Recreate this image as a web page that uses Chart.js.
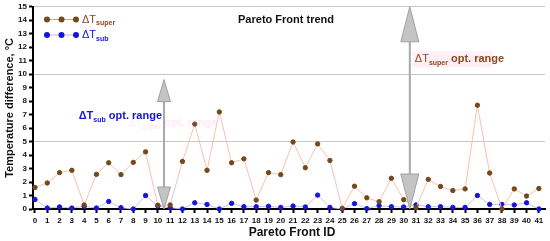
<!DOCTYPE html>
<html lang="en">
<head>
    <meta charset="UTF-8">
    <title>Pareto Front trend</title>
    <style>
        html, body { margin: 0; padding: 0; background: #ffffff; }
        #wrap { width: 550px; height: 241px; }
    </style>
</head>
<body>
    <div id="wrap"><canvas id="chart" width="550" height="241"></canvas></div>

    <script src="https://cdn.jsdelivr.net/npm/chart.js"></script>
    <script>
        // Pareto front IDs 0..41
        const ids = [0,1,2,3,4,5,6,7,8,9,10,11,12,13,14,15,16,17,18,19,20,
                     21,22,23,24,25,26,27,28,29,30,31,32,33,34,35,36,37,38,39,40,41];

        // ΔT super (brown)
        const dtSuper = [1.6,1.93,2.7,2.87,0.3,2.57,3.43,2.55,3.46,4.24,0.28,0.3,3.53,6.3,
                         2.87,7.2,3.43,3.72,0.66,2.7,2.55,4.97,3.06,4.83,3.6,0.05,1.69,0.83,
                         0.54,2.28,0.69,0.1,2.2,1.67,1.37,1.49,7.7,2.67,0.0,1.49,0.96,1.52];

        // ΔT sub (blue)
        const dtSub = [0.71,0.07,0.15,0.07,0.2,0.07,0.56,0.1,0.0,1.0,0.22,0.1,0.0,0.46,
                       0.34,0.0,0.42,0.17,0.17,0.2,0.12,0.22,0.15,1.03,0.12,0.0,0.4,0.03,
                       0.25,0.17,0.15,0.3,0.17,0.17,0.12,0.12,1.0,0.34,0.34,0.3,0.46,0.0];

        const yTicks = [0,1,2,3,4,5,6,7,8,9,10,11,12,13,14,15];

        // optimal range arrows: [x, yFrom, yTo]
        const subRange = [10.5, 0, 9.6];
        const superRange = [30.5, 0, 15];

        const brown = '#74481c';
        const brownLine = '#f3c3b3';
        const blue = '#1414dc';
        const blueLine = '#c4c4f2';

        function drawSubText(ctx, x, y, main, sub, rest, color, align, bold) {
            const big = (bold ? 'bold ' : '') + '11px "Liberation Sans", Arial, sans-serif';
            const bigB = 'bold 11px "Liberation Sans", Arial, sans-serif';
            const small = 'bold 7px "Liberation Sans", Arial, sans-serif';
            ctx.font = big; const w1 = ctx.measureText(main).width;
            ctx.font = small; const w2 = ctx.measureText(sub).width;
            ctx.font = bigB; const w3 = ctx.measureText(rest).width;
            let x0 = align === 'right' ? x - (w1 + w2 + w3) : x;
            ctx.fillStyle = color;
            ctx.textAlign = 'left';
            ctx.textBaseline = 'middle';
            ctx.font = big; ctx.fillText(main, x0, y);
            ctx.font = small; ctx.fillText(sub, x0 + w1, y + 4);
            ctx.font = bigB; ctx.fillText(rest, x0 + w1 + w2, y);
            return { x0: x0, w: w1 + w2 + w3 };
        }

        function arrow(ctx, x, yTop, yBot, headLen, halfW) {
            ctx.save();
            ctx.strokeStyle = '#a8a8a8';
            ctx.lineWidth = 2;
            ctx.beginPath();
            ctx.moveTo(x, yTop + headLen);
            ctx.lineTo(x, yBot - headLen);
            ctx.stroke();
            ctx.fillStyle = '#c4c4c4';
            ctx.strokeStyle = '#a0a0a0';
            ctx.lineWidth = 1;
            ctx.beginPath();
            ctx.moveTo(x, yTop);
            ctx.lineTo(x - halfW, yTop + headLen);
            ctx.lineTo(x + halfW, yTop + headLen);
            ctx.closePath();
            ctx.fill(); ctx.stroke();
            ctx.beginPath();
            ctx.moveTo(x, yBot);
            ctx.lineTo(x - halfW, yBot - headLen);
            ctx.lineTo(x + halfW, yBot - headLen);
            ctx.closePath();
            ctx.fill(); ctx.stroke();
            ctx.restore();
        }

        const decor = {
            id: 'decor',
            afterDatasetsDraw(chart) {
                const ctx = chart.ctx;
                const xs = chart.scales.x, ys = chart.scales.y;
                const area = chart.chartArea;

                // arrows
                arrow(ctx, xs.getPixelForValue(subRange[0]), ys.getPixelForValue(subRange[2]),
                      ys.getPixelForValue(subRange[1]), 22, 6.5);
                arrow(ctx, xs.getPixelForValue(superRange[0]), ys.getPixelForValue(superRange[2]),
                      ys.getPixelForValue(superRange[1]), 35, 9);

                ctx.save();
                // faint ghost label
                ctx.globalAlpha = 0.15;
                drawSubText(ctx, xs.getPixelForValue(10.5) - 36, ys.getPixelForValue(6.35),
                            '\u0394T', 'super', ' opt. range', '#ff66cc', 'left', false);
                ctx.globalAlpha = 1;

                // range labels
                drawSubText(ctx, xs.getPixelForValue(subRange[0]) - 2, ys.getPixelForValue(6.9),
                            '\u0394T', 'sub', ' opt. range', blue, 'right', true);
                ctx.fillStyle = 'rgba(255,225,242,0.5)';
                ctx.fillRect(xs.getPixelForValue(superRange[0]) + 3, ys.getPixelForValue(11.1) - 8, 80, 16);
                drawSubText(ctx, xs.getPixelForValue(superRange[0]) + 5, ys.getPixelForValue(11.1),
                            '\u0394T', 'super', ' opt. range', '#8a4a1a', 'left', false);

                // title
                ctx.fillStyle = '#111';
                ctx.font = 'bold 11px "Liberation Sans", Arial, sans-serif';
                ctx.textAlign = 'center';
                ctx.textBaseline = 'middle';
                ctx.fillText('Pareto Front trend', 286, 20);

                // legend
                const lx = [47, 61.5, 76];
                const items = [
                    { y: 19.5, pc: brown, lc: '#c9a88a', sub: 'super', tc: '#8a4a1a' },
                    { y: 35, pc: blue, lc: '#f0a0e0', sub: 'sub', tc: blue }
                ];
                items.forEach(it => {
                    ctx.strokeStyle = it.lc;
                    ctx.lineWidth = 1;
                    ctx.beginPath();
                    ctx.moveTo(lx[0], it.y); ctx.lineTo(lx[2], it.y);
                    ctx.stroke();
                    ctx.fillStyle = it.pc;
                    lx.forEach(x => {
                        ctx.beginPath();
                        ctx.arc(x, it.y, 3, 0, Math.PI * 2);
                        ctx.fill();
                    });
                    drawSubText(ctx, 82, it.y, '\u0394T', it.sub, '', it.tc, 'left', false);
                });

                // axis titles
                ctx.fillStyle = '#111';
                ctx.font = 'bold 12px "Liberation Sans", Arial, sans-serif';
                ctx.textAlign = 'center';
                ctx.fillText('Pareto Front ID', (area.left + area.right) / 2 + 3, 233);
                ctx.translate(10, (area.top + area.bottom) / 2);
                ctx.rotate(-Math.PI / 2);
                ctx.font = 'bold 11px "Liberation Sans", Arial, sans-serif';
                ctx.fillText('Temperature difference, \u00B0C', 0, 0);
                ctx.restore();
            }
        };

        const chart = new Chart(document.getElementById('chart').getContext('2d'), {
            type: 'line',
            data: {
                datasets: [
                    {
                        label: '\u0394T super',
                        data: ids.map((id, i) => ({ x: id, y: dtSuper[i] })),
                        borderColor: brownLine,
                        backgroundColor: brown,
                        pointBackgroundColor: brown,
                        pointBorderColor: brown,
                        pointRadius: 2.2,
                        borderWidth: 1,
                        tension: 0,
                        clip: false
                    },
                    {
                        label: '\u0394T sub',
                        data: ids.map((id, i) => ({ x: id, y: dtSub[i] })),
                        borderColor: blueLine,
                        backgroundColor: blue,
                        pointBackgroundColor: blue,
                        pointBorderColor: blue,
                        pointRadius: 2.2,
                        borderWidth: 1,
                        tension: 0,
                        clip: false
                    }
                ]
            },
            options: {
                responsive: false,
                animation: false,
                layout: { padding: { top: 5, right: 1, left: 0, bottom: 0 } },
                plugins: {
                    legend: { display: false },
                    tooltip: { enabled: false }
                },
                scales: {
                    x: {
                        type: 'linear',
                        min: -0.16,
                        max: 41.5,
                        afterBuildTicks: s => { s.ticks = ids.map(v => ({ value: v })); },
                        afterFit: s => { s.height = 32; },
                        border: { color: '#000', width: 2 },
                        grid: { drawOnChartArea: false, drawTicks: true, tickLength: 4, tickWidth: 2, tickColor: '#000' },
                        ticks: {
                            color: '#111',
                            padding: 3,
                            maxRotation: 0,
                            autoSkip: false,
                            font: { family: '"Liberation Sans", Arial, sans-serif', size: 8, weight: 'bold' }
                        }
                    },
                    y: {
                        min: 0,
                        max: 15,
                        afterBuildTicks: s => { s.ticks = yTicks.map(v => ({ value: v })); },
                        afterFit: s => { s.width = 33; },
                        border: { color: '#000', width: 2 },
                        grid: {
                            color: c => (c.tick && c.tick.value % 5 === 0 && c.tick.value > 0) ? '#c8c8c8' : 'rgba(0,0,0,0)',
                            lineWidth: 1,
                            tickLength: 4,
                            tickWidth: 2,
                            tickColor: '#000'
                        },
                        ticks: {
                            color: '#111',
                            padding: 2,
                            font: { family: '"Liberation Sans", Arial, sans-serif', size: 8, weight: 'bold' }
                        }
                    }
                }
            },
            plugins: [decor]
        });
    </script>
</body>
</html>
